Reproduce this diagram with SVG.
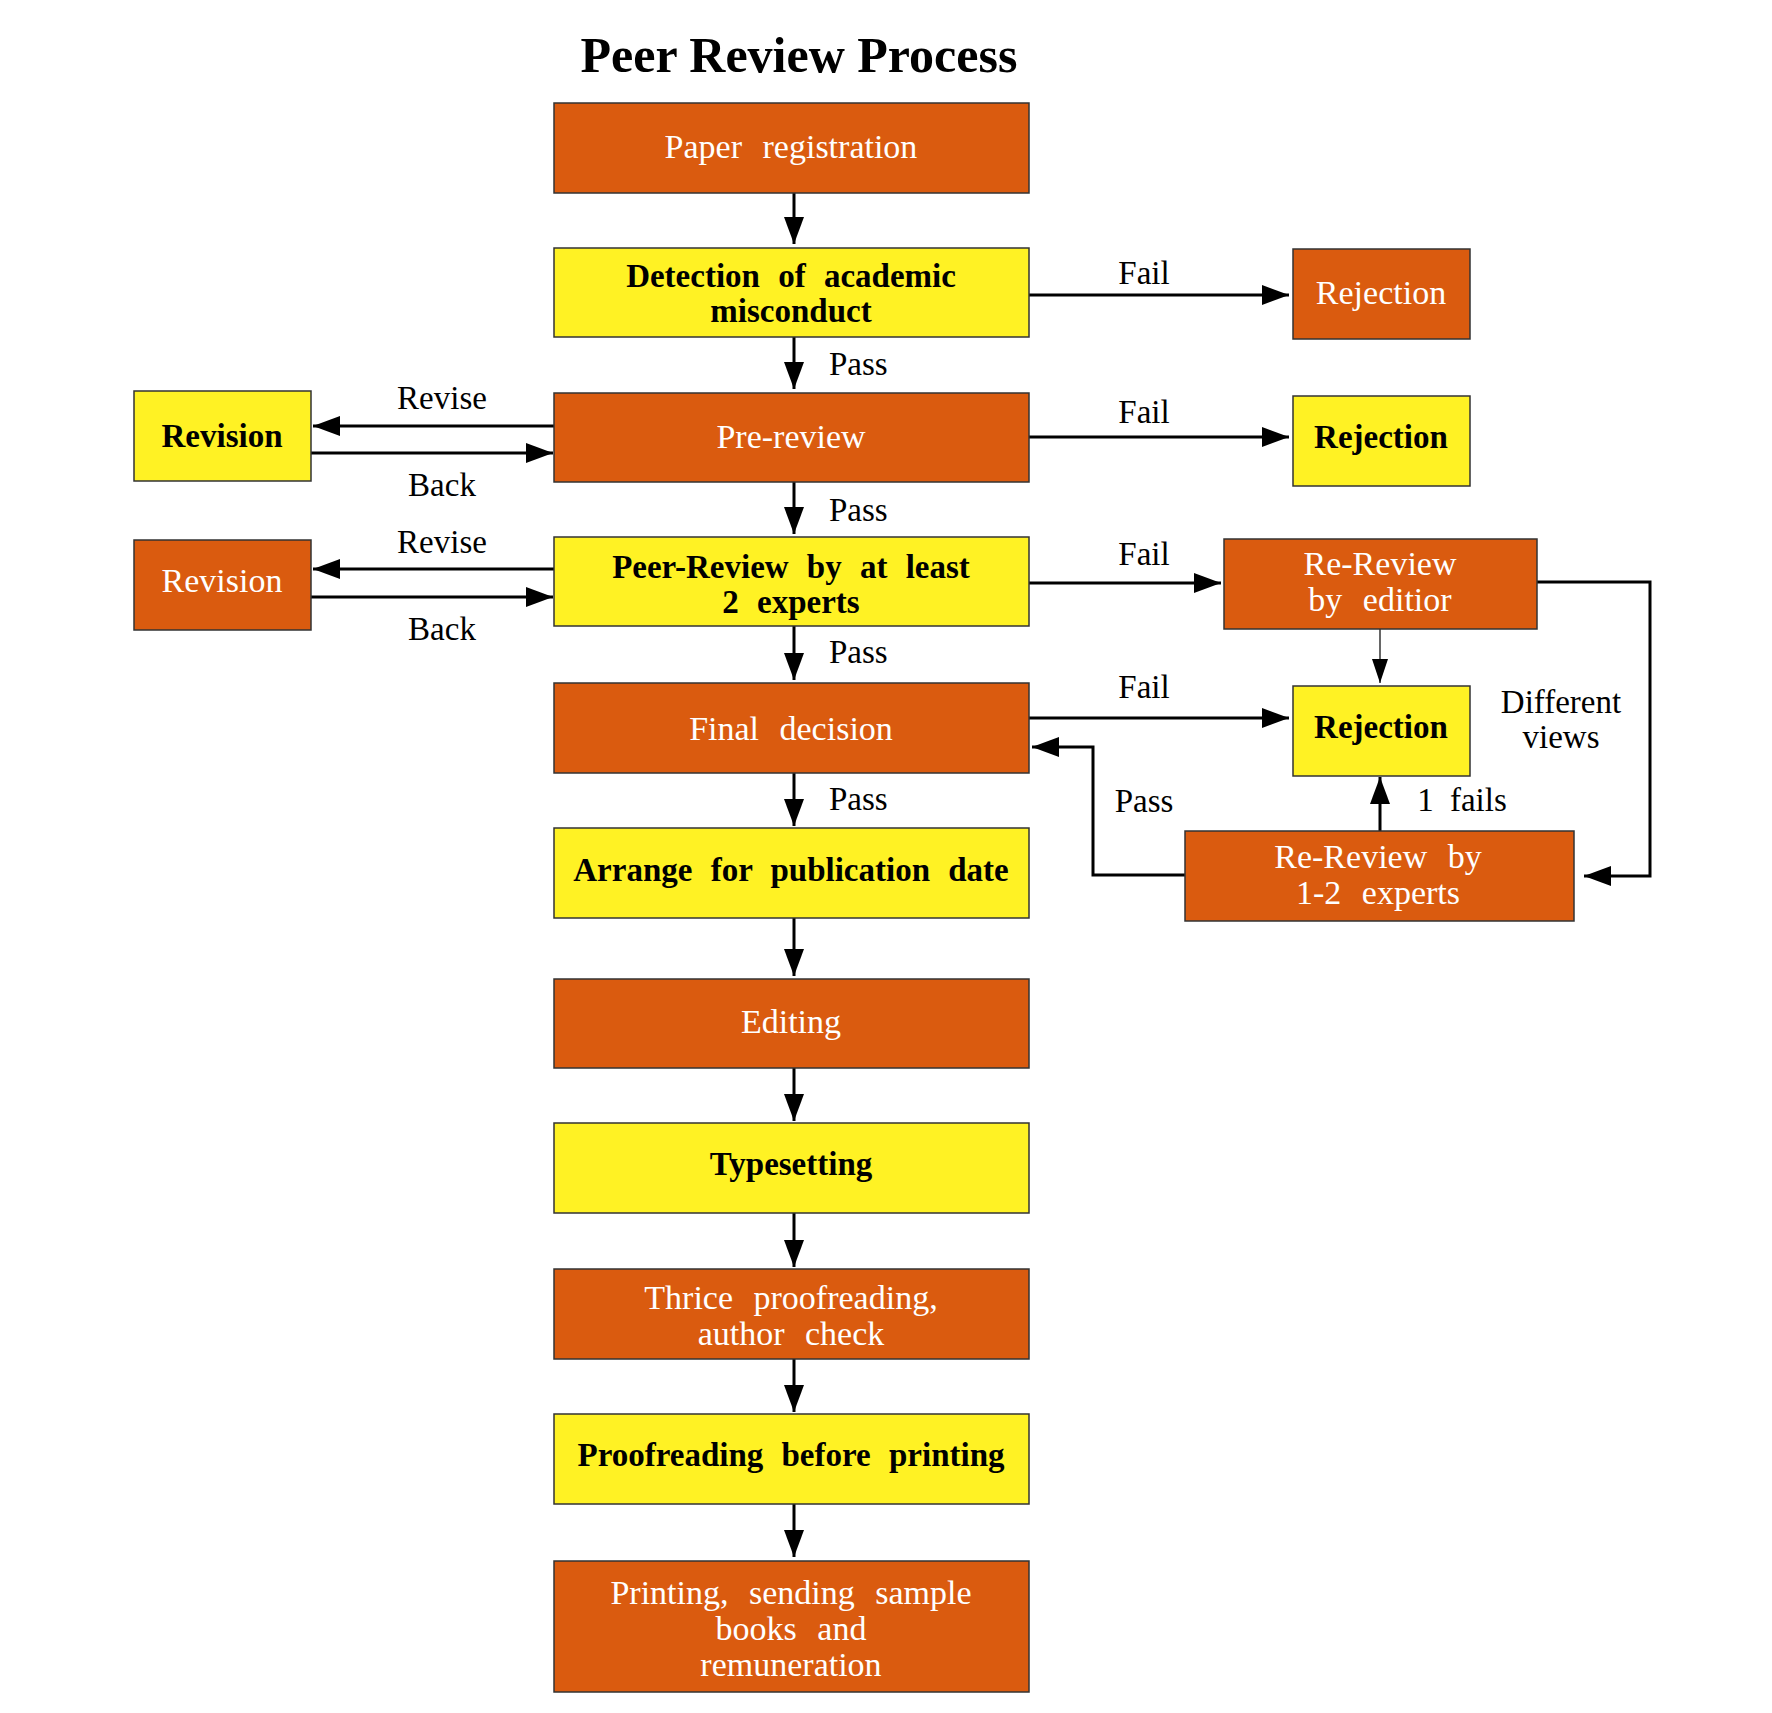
<svg xmlns="http://www.w3.org/2000/svg" width="1772" height="1713" viewBox="0 0 1772 1713">
<defs>
<style>
.o{fill:#DA5B0F;stroke:#333;stroke-width:1.5}
.y{fill:#FFF224;stroke:#333;stroke-width:1.5}
.tw{font-family:"Liberation Serif","Times New Roman",serif;font-size:34px;fill:#fff;text-anchor:middle;word-spacing:12px}
.tb{font-family:"Liberation Serif","Times New Roman",serif;font-size:33px;font-weight:bold;fill:#000;text-anchor:middle;word-spacing:10px}
.lb{font-family:"Liberation Serif","Times New Roman",serif;font-size:33px;fill:#000;text-anchor:middle;word-spacing:8px}
.ls{font-family:"Liberation Serif","Times New Roman",serif;font-size:33px;fill:#000;text-anchor:start}
.c{fill:none;stroke:#000;stroke-width:3}
.thin{fill:none;stroke:#000;stroke-width:1.2}
</style>
<marker id="ah" markerUnits="userSpaceOnUse" markerWidth="27" markerHeight="20" refX="27" refY="10" orient="auto" viewBox="0 0 27 20">
<path d="M0,0 L27,10 L0,20 z" fill="#000"/>
</marker>
<marker id="ah2" markerUnits="userSpaceOnUse" markerWidth="24" markerHeight="16" refX="24" refY="8" orient="auto" viewBox="0 0 24 16">
<path d="M0,0 L24,8 L0,16 z" fill="#000"/>
</marker>
</defs>
<rect width="1772" height="1713" fill="#fff"/>
<text x="799" y="72" font-family="Liberation Serif,'Times New Roman',serif" font-size="50" font-weight="bold" text-anchor="middle">Peer Review Process</text>

<g id="connectors">
<line class="c" x1="794" y1="193" x2="794" y2="244" marker-end="url(#ah)"/>
<line class="c" x1="794" y1="337" x2="794" y2="389" marker-end="url(#ah)"/>
<line class="c" x1="794" y1="482" x2="794" y2="534" marker-end="url(#ah)"/>
<line class="c" x1="794" y1="626" x2="794" y2="680" marker-end="url(#ah)"/>
<line class="c" x1="794" y1="773" x2="794" y2="826" marker-end="url(#ah)"/>
<line class="c" x1="794" y1="918" x2="794" y2="976" marker-end="url(#ah)"/>
<line class="c" x1="794" y1="1068" x2="794" y2="1121" marker-end="url(#ah)"/>
<line class="c" x1="794" y1="1213" x2="794" y2="1267" marker-end="url(#ah)"/>
<line class="c" x1="794" y1="1359" x2="794" y2="1412" marker-end="url(#ah)"/>
<line class="c" x1="794" y1="1504" x2="794" y2="1557" marker-end="url(#ah)"/>
<line class="c" x1="1029" y1="295" x2="1289" y2="295" marker-end="url(#ah)"/>
<line class="c" x1="1029" y1="437" x2="1289" y2="437" marker-end="url(#ah)"/>
<line class="c" x1="1029" y1="583" x2="1221" y2="583" marker-end="url(#ah)"/>
<line class="c" x1="1029" y1="718" x2="1289" y2="718" marker-end="url(#ah)"/>
<line class="c" x1="554" y1="426" x2="313" y2="426" marker-end="url(#ah)"/>
<line class="c" x1="311" y1="453" x2="553" y2="453" marker-end="url(#ah)"/>
<line class="c" x1="554" y1="569" x2="313" y2="569" marker-end="url(#ah)"/>
<line class="c" x1="311" y1="597" x2="553" y2="597" marker-end="url(#ah)"/>
<line class="thin" x1="1380" y1="629" x2="1380" y2="683" marker-end="url(#ah2)"/>
<line class="c" x1="1380" y1="831" x2="1380" y2="777" marker-end="url(#ah)"/>
<polyline class="c" points="1185,875 1093,875 1093,747 1032,747" marker-end="url(#ah)"/>
<polyline class="c" points="1537,582 1650,582 1650,876 1584,876" marker-end="url(#ah)"/>
<text class="ls" x="829" y="375">Pass</text>
<text class="ls" x="829" y="521">Pass</text>
<text class="ls" x="829" y="663">Pass</text>
<text class="ls" x="829" y="810">Pass</text>
<text class="lb" x="1144" y="284">Fail</text>
<text class="lb" x="1144" y="423">Fail</text>
<text class="lb" x="1144" y="565">Fail</text>
<text class="lb" x="1144" y="698">Fail</text>
<text class="lb" x="1144" y="812">Pass</text>
<text class="lb" x="442" y="409">Revise</text>
<text class="lb" x="442" y="496">Back</text>
<text class="lb" x="442" y="553">Revise</text>
<text class="lb" x="442" y="640">Back</text>
<text class="lb" x="1462" y="811">1 fails</text>
<text class="lb" x="1561" y="713">Different</text>
<text class="lb" x="1561" y="748">views</text>
</g>

<g id="n-paper"><rect class="o" x="554" y="103" width="475" height="90"/><text class="tw" x="791" y="158">Paper registration</text></g>
<g id="n-detect"><rect class="y" x="554" y="248" width="475" height="89"/><text class="tb" x="791" y="287">Detection of academic</text><text class="tb" x="791" y="322">misconduct</text></g>
<g id="n-pre"><rect class="o" x="554" y="393" width="475" height="89"/><text class="tw" x="791" y="448">Pre-review</text></g>
<g id="n-peer"><rect class="y" x="554" y="537" width="475" height="89"/><text class="tb" x="791" y="578">Peer-Review by at least</text><text class="tb" x="791" y="613">2 experts</text></g>
<g id="n-final"><rect class="o" x="554" y="683" width="475" height="90"/><text class="tw" x="791" y="740">Final decision</text></g>
<g id="n-arrange"><rect class="y" x="554" y="828" width="475" height="90"/><text class="tb" x="791" y="881">Arrange for publication date</text></g>
<g id="n-editing"><rect class="o" x="554" y="979" width="475" height="89"/><text class="tw" x="791" y="1033">Editing</text></g>
<g id="n-type"><rect class="y" x="554" y="1123" width="475" height="90"/><text class="tb" x="791" y="1175">Typesetting</text></g>
<g id="n-thrice"><rect class="o" x="554" y="1269" width="475" height="90"/><text class="tw" x="791" y="1309">Thrice proofreading,</text><text class="tw" x="791" y="1345">author check</text></g>
<g id="n-proof"><rect class="y" x="554" y="1414" width="475" height="90"/><text class="tb" x="791" y="1466">Proofreading before printing</text></g>
<g id="n-print"><rect class="o" x="554" y="1561" width="475" height="131"/><text class="tw" x="791" y="1604">Printing, sending sample</text><text class="tw" x="791" y="1640">books and</text><text class="tw" x="791" y="1676">remuneration</text></g>

<g id="n-rev1"><rect class="y" x="134" y="391" width="177" height="90"/><text class="tb" x="222" y="447">Revision</text></g>
<g id="n-rev2"><rect class="o" x="134" y="540" width="177" height="90"/><text class="tw" x="222" y="592">Revision</text></g>

<g id="n-rej1"><rect class="o" x="1293" y="249" width="177" height="90"/><text class="tw" x="1381" y="304">Rejection</text></g>
<g id="n-rej2"><rect class="y" x="1293" y="396" width="177" height="90"/><text class="tb" x="1381" y="448">Rejection</text></g>
<g id="n-editor"><rect class="o" x="1224" y="539" width="313" height="90"/><text class="tw" x="1380" y="575">Re-Review</text><text class="tw" x="1380" y="611">by editior</text></g>
<g id="n-rej3"><rect class="y" x="1293" y="686" width="177" height="90"/><text class="tb" x="1381" y="738">Rejection</text></g>
<g id="n-experts"><rect class="o" x="1185" y="831" width="389" height="90"/><text class="tw" x="1378" y="868">Re-Review by</text><text class="tw" x="1378" y="904">1-2 experts</text></g>
</svg>
